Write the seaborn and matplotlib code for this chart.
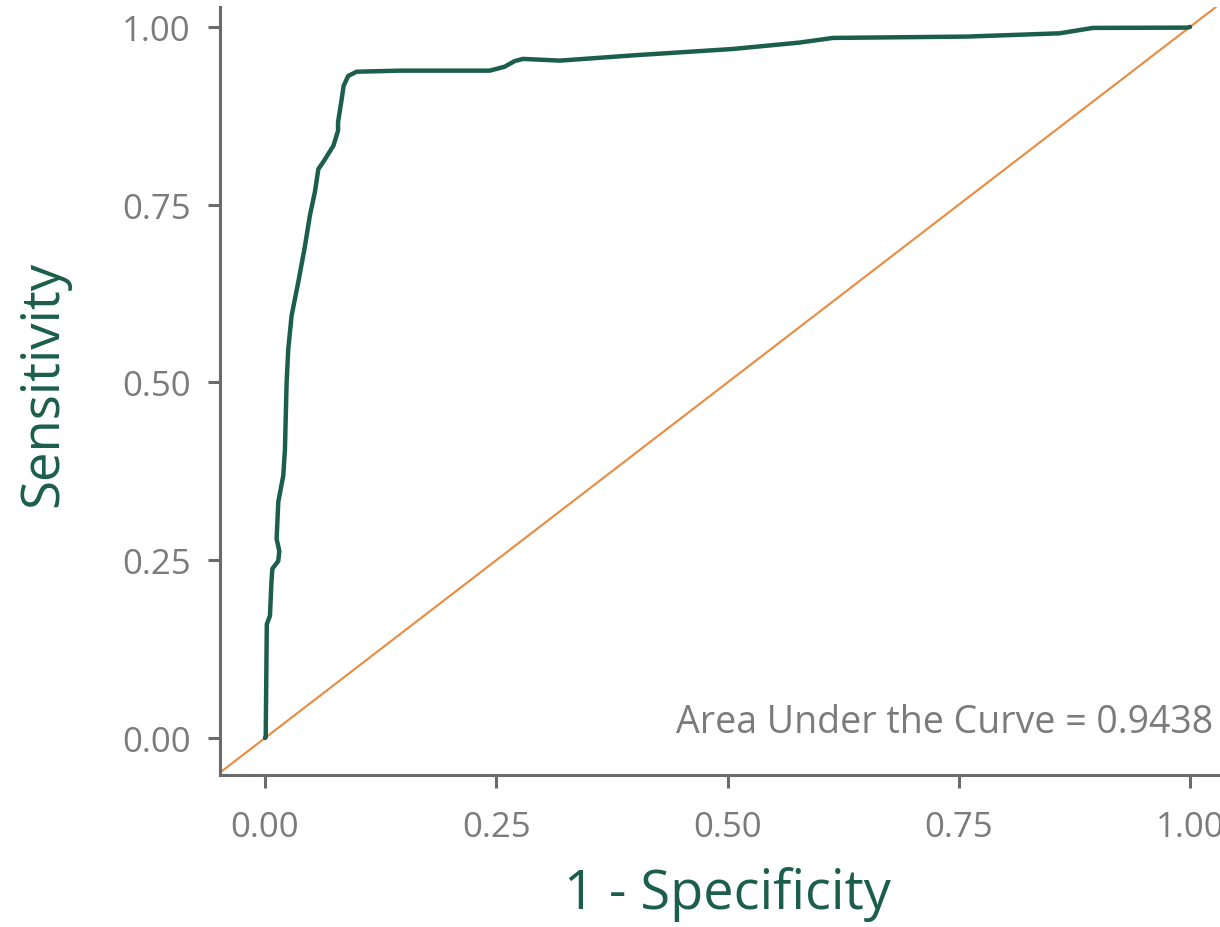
import pandas as pd
import matplotlib
matplotlib.use("Agg")
import matplotlib.pyplot as plt
import seaborn as sns

# ROC curve points
fpr = [0.0, 0.0008, 0.002, 0.0054, 0.007, 0.008, 0.0144, 0.0155, 0.0126, 0.0144,
       0.0198, 0.0216, 0.0234, 0.0252, 0.0288, 0.036, 0.043, 0.0486, 0.054, 0.0577,
       0.063, 0.074, 0.079, 0.079, 0.083, 0.085, 0.090, 0.099, 0.146, 0.243,
       0.259, 0.270, 0.279, 0.319, 0.398, 0.506, 0.578, 0.614, 0.759, 0.859,
       0.895, 0.997, 1.0]
tpr = [0.0, 0.001, 0.160, 0.172, 0.219, 0.238, 0.249, 0.263, 0.280, 0.332,
       0.369, 0.406, 0.500, 0.547, 0.594, 0.641, 0.690, 0.735, 0.768, 0.800,
       0.810, 0.833, 0.854, 0.866, 0.899, 0.917, 0.931, 0.937, 0.9385, 0.9385,
       0.944, 0.952, 0.955, 0.9526, 0.960, 0.969, 0.978, 0.9845, 0.9864, 0.991,
       0.9986, 0.999, 1.0]
auc = 0.9438
ticks = [0.0, 0.25, 0.5, 0.75, 1.0]
tick_labels = ["0.00", "0.25", "0.50", "0.75", "1.00"]

green = "#1b5e4c"
orange = "#ea8a3f"
grey_text = "#7b7b7b"
grey_axis = "#6b6b6b"

sns.set_style("white")
plt.rcParams["font.family"] = ["Open Sans", "DejaVu Sans"]

df = pd.DataFrame({"fpr": fpr, "tpr": tpr})

fig = plt.figure(figsize=(12.2, 9.28), dpi=100)
# axes runs past the right/top edge like the cropped original
ax = fig.add_axes([220 / 1220, 152 / 928, 1015 / 1220, 768 / 928])

ax.axline((0, 0), (1, 1), color=orange, linewidth=1.5, zorder=1)
sns.lineplot(data=df, x="fpr", y="tpr", sort=False, estimator=None,
             color=green, linewidth=3.2, ax=ax, zorder=2)
ax.lines[-1].set_solid_joinstyle("round")

ax.set_xlim(-0.0486, 1.0486)
ax.set_ylim(-0.052, 1.028)
ax.set_xticks(ticks)
ax.set_xticklabels(tick_labels)
ax.set_yticks(ticks)
ax.set_yticklabels(tick_labels)

for side in ["top", "right"]:
    ax.spines[side].set_visible(False)
for side in ["left", "bottom"]:
    ax.spines[side].set_color(grey_axis)
    ax.spines[side].set_linewidth(2.2)

ax.tick_params(axis="both", which="major", length=9, width=2.2, color=grey_axis,
               labelcolor=grey_text, labelsize=25, left=True, bottom=True)
ax.tick_params(axis="y", pad=12)
ax.tick_params(axis="x", pad=16)

ax.set_xlabel("1 - Specificity", fontsize=39, color=green)
ax.set_ylabel("Sensitivity", fontsize=38, color=green)
ax.xaxis.set_label_coords(0.4995, -0.118)
ax.yaxis.set_label_coords(-0.148, 0.511)

ax.text(1.025, -0.004, f"Area Under the Curve = {auc:.4f}", ha="right", va="bottom",
        fontsize=27, color=grey_text)

fig.savefig("out.png", dpi=100)
